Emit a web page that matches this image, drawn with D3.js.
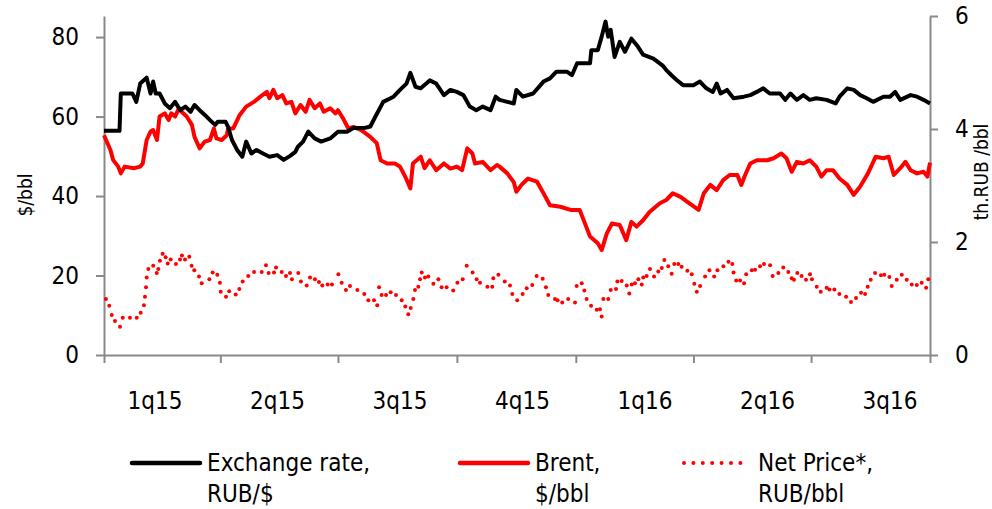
<!DOCTYPE html>
<html>
<head>
<meta charset="utf-8">
<script src="https://cdn.jsdelivr.net/npm/d3@7"></script>
<style>
  body { margin: 0; background: #fff; }
  text { font-family: "DejaVu Sans Condensed", "DejaVu Sans", sans-serif; fill: #000; }
</style>
</head>
<body>
<script>
// Data: [days since 1 Jan 2015, value]
var quarterLabels = ["1q15", "2q15", "3q15", "4q15", "1q16", "2q16", "3q16"];
var leftTicks = [0, 20, 40, 60, 80];
var rightTicks = [0, 2, 4, 6];

// Exchange rate, RUB/$ (left axis)
var exchangeRate = [[0,56.4],[12,56.4],[13,65.8],[22,65.8],[25,63.7],[28,68.3],[33,69.8],[36,65.8],[38,68.8],[40,65.8],[43,65.8],[47,63.3],[51,62.1],[55,63.7],[59,61.6],[63,62.5],[67,61.2],[70,62.9],[74,61.6],[78,60.4],[82,59.1],[86,57.9],[88,58.7],[94,58.7],[96,57.4],[99,54.1],[103,51.6],[107,49.9],[110,53.7],[114,50.7],[118,51.6],[123,50.7],[128,49.9],[134,50.3],[139,49.1],[144,50.1],[148,51.1],[150,52.4],[154,53.7],[158,56.2],[163,54.5],[168,53.7],[175,54.5],[181,56.2],[188,56.2],[193,57.1],[201,57.1],[206,57.5],[210,60],[216,63.7],[224,65],[229,66.7],[234,68.3],[237,71],[241,67.5],[245,67.1],[252,69.1],[257,68.3],[263,65.4],[268,66.7],[273,66.2],[278,65.4],[283,62.5],[288,61.6],[293,62.5],[299,61.6],[303,65],[306,64.2],[312,63.7],[317,63.3],[319,66.7],[324,65],[332,65.8],[340,68.8],[345,69.6],[350,71.3],[358,71.3],[362,70.4],[366,73.4],[376,73.4],[377,76.7],[382,76.7],[385,80.1],[388,83.9],[390,80.1],[392,81.8],[395,75],[399,78.8],[403,76.3],[408,79.6],[413,77.6],[417,75.6],[425,74.6],[432,72.9],[435,71.7],[439,70.4],[443,69.2],[448,67.9],[456,67.9],[461,68.8],[466,67.1],[471,66.2],[474,68.3],[477,65.8],[482,66.7],[487,64.6],[495,65],[500,65.4],[505,66.2],[510,67.1],[515,65.8],[523,65.8],[527,64.2],[531,65.8],[536,64.2],[541,65.4],[546,64.2],[551,64.6],[559,64.2],[566,63.3],[569,65],[575,67.1],[580,66.7],[585,65.4],[590,64.6],[595,63.7],[603,65],[608,65],[612,66.2],[616,64.2],[624,65.4],[629,65],[634,64.2],[639,63.3]];

// Brent, $/bbl (left axis)
var brent = [[0,55.3],[5,51.6],[7,49.1],[11,47.4],[13,45.7],[16,47.4],[23,47],[28,47.4],[30,48.2],[33,54.1],[36,56.2],[38,56.6],[41,54.1],[43,60],[47,60.8],[50,59.1],[52,60.8],[55,60],[58,62.1],[60,61.2],[64,60],[68,57.9],[70,54.9],[74,52],[78,53.7],[82,54.1],[85,57],[87,54.5],[91,54.1],[95,55.3],[96,57],[100,57],[105,60.4],[110,62.5],[116,63.7],[121,65],[126,66.2],[128,64.6],[131,66.7],[134,64.6],[138,65.4],[141,63.3],[145,63.7],[148,60.8],[152,62.9],[156,61.2],[159,64.2],[163,62.1],[167,63.3],[170,61.2],[175,62.1],[179,60.8],[181,61.6],[185,59.5],[189,57],[193,57.4],[199,56.6],[206,54.9],[211,53.3],[214,49],[219,48.2],[225,48.2],[229,47.4],[233,44.9],[237,41.9],[239,48.2],[245,49.9],[248,47],[252,49],[257,46.5],[263,48.2],[268,46.9],[273,47.4],[277,46.5],[281,52],[285,50.7],[287,48.2],[293,48.6],[299,46.5],[304,47.8],[306,47.4],[312,45.7],[317,43.5],[319,41.1],[323,42.8],[328,44.4],[335,43.6],[340,40.7],[345,37.7],[353,37.3],[361,36.5],[368,36.5],[371,34],[376,29.8],[382,28.1],[385,26.4],[389,30.6],[393,33.1],[399,32.7],[404,28.9],[408,33.5],[412,32.3],[417,33.9],[422,36],[430,38.2],[435,39],[440,40.7],[446,39.8],[451,38.6],[460,36.5],[464,40.7],[469,42.8],[474,41.5],[479,44],[484,45.3],[490,45.3],[493,42.8],[496,45.3],[500,48.2],[505,49],[513,49],[518,49.5],[524,50.7],[528,49.5],[532,46.1],[536,48.6],[541,48.2],[546,49],[551,47.4],[555,44.9],[559,46.5],[564,46.5],[569,44.4],[575,42.8],[580,40.3],[585,42.4],[591,45.7],[597,49.9],[603,49.5],[607,49.9],[611,45.3],[616,47],[620,48.6],[624,46.5],[629,45.7],[634,46.1],[637,44.9],[639,48.4]];

// Net Price*, th.RUB/bbl (right axis)
var netPrice = [[1.5,0.99],[4.1,0.87],[6,0.71],[8.5,0.6],[12.4,0.5],[14.5,0.66],[20.1,0.66],[25.3,0.66],[28.4,0.75],[30.9,0.88],[31.7,1.03],[32.5,1.2],[33,1.37],[34.3,1.52],[38.1,1.58],[40.8,1.45],[42,1.52],[43.3,1.67],[45.4,1.79],[47.7,1.73],[49.3,1.62],[51.6,1.69],[55.7,1.61],[58.8,1.69],[60.3,1.76],[62.7,1.69],[66,1.74],[67.8,1.58],[69.9,1.5],[73.5,1.39],[75.6,1.27],[81.5,1.34],[84.1,1.46],[87.7,1.42],[89.7,1.28],[90.3,1.12],[94.4,1.03],[96.9,1.13],[101.9,1.07],[104.7,1.17],[107.3,1.3],[111.6,1.4],[116.1,1.47],[122,1.47],[125.3,1.59],[127.4,1.45],[131.5,1.46],[133.1,1.55],[137.5,1.47],[140.8,1.4],[143.9,1.45],[145.4,1.34],[150.3,1.45],[152.4,1.3],[156.8,1.23],[159.4,1.37],[163.2,1.34],[166.3,1.29],[168.9,1.23],[173,1.25],[176.4,1.25],[181.3,1.43],[183.9,1.28],[187.2,1.15],[190.3,1.22],[196,1.15],[201.4,1.08],[204.5,0.97],[208.9,0.97],[211.4,0.88],[212.8,1.2],[214.8,1.06],[218.2,1.06],[221.8,1.11],[225.9,1.06],[230.3,0.97],[233.1,0.86],[235.4,0.72],[237.3,0.83],[239.3,0.99],[240.6,1.15],[243.2,1.21],[244.5,1.34],[245.8,1.46],[248.3,1.37],[250.9,1.39],[254.8,1.26],[258.7,1.34],[261.2,1.2],[265.1,1.2],[270.2,1.14],[273.4,1.28],[277.5,1.34],[280.6,1.58],[285.2,1.46],[288.3,1.34],[290.9,1.28],[296.6,1.21],[300.4,1.21],[301.2,1.36],[305.1,1.42],[310,1.3],[314.1,1.23],[315.9,1.08],[319.7,0.97],[323.9,1.08],[327,1.18],[331.3,1.24],[334.7,1.4],[339.4,1.35],[341.9,1.2],[343.7,1.06],[348.9,0.99],[350.9,0.97],[354.5,0.93],[359.1,0.99],[364.4,0.93],[365.7,1.22],[369.6,1.27],[371.6,1.14],[373.4,0.99],[376.8,0.87],[381.2,0.8],[383.7,0.81],[385,0.68],[386.3,0.99],[390.1,0.99],[392,1.15],[396.1,1.17],[397.2,1.3],[400.5,1.31],[404.4,1.23],[406.4,1.09],[408.3,1.25],[410.8,1.27],[413.4,1.34],[416,1.25],[417.2,1.37],[419.8,1.4],[422.4,1.52],[425.5,1.39],[428.8,1.48],[431.5,1.54],[433.5,1.68],[436.5,1.57],[439.2,1.44],[441.2,1.61],[444.3,1.61],[446.9,1.56],[451.3,1.49],[454.7,1.43],[456.7,1.26],[458.6,1.12],[461.2,1.22],[465,1.39],[468.4,1.5],[472,1.39],[474.6,1.5],[479.2,1.57],[483.1,1.65],[486.1,1.61],[487,1.46],[489.1,1.32],[492.1,1.32],[495.2,1.27],[496.8,1.43],[501.2,1.5],[503.7,1.51],[507.5,1.57],[510.6,1.61],[515.3,1.59],[517.3,1.4],[521.7,1.45],[525.5,1.55],[529.4,1.47],[532,1.36],[533.8,1.33],[536.4,1.45],[539.7,1.4],[543.1,1.33],[546.2,1.43],[547.7,1.34],[551.4,1.21],[554.5,1.12],[559.1,1.19],[561.2,1.16],[565,1.16],[568.9,1.08],[574.1,1.03],[577.9,0.94],[581.8,1.01],[585.7,1.1],[588.8,1.08],[590.8,1.21],[593.2,1.33],[596.5,1.45],[601.1,1.41],[603.7,1.42],[607.6,1.38],[609.4,1.22],[613.3,1.33],[617.2,1.42],[621,1.33],[624.9,1.25],[628.8,1.24],[632.6,1.28],[636,1.19],[637.7,1.34]];

// Set up size
var width = 992;
var height = 509;
var plot = {left: 104, right: 930, top: 16, bottom: 355};
var axisColor = "#898989";
var start = new Date(2015, 0, 1);

function toDate(d) { return d3.timeHour.offset(start, d[0] * 24); }

var svg = d3.select("body").append("svg")
  .attr("width", width)
  .attr("height", height);

// Scales
var x = d3.scaleTime()
  .domain([start, new Date(2016, 9, 1)])
  .range([plot.left, plot.right]);
var yLeft = d3.scaleLinear().domain([0, 85.3]).range([plot.bottom, plot.top]);
var yRight = d3.scaleLinear().domain([0, 6]).range([plot.bottom, plot.top]);

// Left axis
var leftAxis = svg.append("g")
  .attr("transform", "translate(" + plot.left + ",0)")
  .call(d3.axisLeft(yLeft).tickValues(leftTicks).tickSize(8).tickPadding(17).tickSizeOuter(0).tickFormat(d3.format("d")));

// Right axis
var rightAxis = svg.append("g")
  .attr("transform", "translate(" + plot.right + ",0)")
  .call(d3.axisRight(yRight).tickValues(rightTicks).tickSize(8).tickPadding(17).tickSizeOuter(0).tickFormat(d3.format("d")));

// Bottom axis: quarter boundaries as ticks, labels set separately
var bottomAxis = svg.append("g")
  .attr("transform", "translate(0," + plot.bottom + ")")
  .call(d3.axisBottom(x).ticks(d3.timeMonth.every(3)).tickSize(8).tickSizeOuter(0).tickFormat(""));

[leftAxis, rightAxis, bottomAxis].forEach(function(g) {
  g.select(".domain").attr("stroke", axisColor).attr("stroke-width", 2);
  g.selectAll(".tick line").attr("stroke", axisColor).attr("stroke-width", 2);
  g.selectAll(".tick text").style("font-size", "24px").attr("fill", "#000");
});

// Quarter labels
var labelScale = d3.scalePoint().domain(quarterLabels).range([155, 890]);
svg.append("g").selectAll("text")
  .data(quarterLabels)
  .enter().append("text")
  .attr("x", function(d) { return labelScale(d); })
  .attr("y", 401)
  .attr("dy", "0.35em")
  .attr("text-anchor", "middle")
  .style("font-size", "24px")
  .text(function(d) { return d; });

// Axis titles
svg.append("text")
  .attr("transform", "translate(25,195) rotate(-90)")
  .attr("text-anchor", "middle")
  .attr("dy", "0.35em")
  .style("font-size", "19px")
  .text("$/bbl");
svg.append("text")
  .attr("transform", "translate(981,172) rotate(-90)")
  .attr("text-anchor", "middle")
  .attr("dy", "0.35em")
  .style("font-size", "19px")
  .text("th.RUB /bbl");

// Lines
var lineLeft = d3.line()
  .x(function(d) { return x(toDate(d)); })
  .y(function(d) { return yLeft(d[1]); });

svg.append("path")
  .datum(brent)
  .attr("fill", "none")
  .attr("stroke", "#ff0000")
  .attr("stroke-width", 4)
  .attr("stroke-linejoin", "round")
  .attr("d", lineLeft);

svg.append("path")
  .datum(exchangeRate)
  .attr("fill", "none")
  .attr("stroke", "#000")
  .attr("stroke-width", 4)
  .attr("stroke-linejoin", "round")
  .attr("d", lineLeft);

// Net price dots
svg.append("g").selectAll("circle")
  .data(netPrice)
  .enter().append("circle")
  .attr("cx", function(d) { return x(toDate(d)); })
  .attr("cy", function(d) { return yRight(d[1]); })
  .attr("r", 2)
  .attr("fill", "#ff0000");

// Legend
var legendItems = [
  {lines: ["Exchange rate,", "RUB/$"], color: "#000", dash: null, x: 130},
  {lines: ["Brent,", "$/bbl"], color: "#ff0000", dash: null, x: 458},
  {lines: ["Net Price*,", "RUB/bbl"], color: "#ff0000", dash: "0,9.4", x: 682}
];
var legend = svg.append("g").selectAll("g")
  .data(legendItems)
  .enter().append("g")
  .attr("transform", function(d) { return "translate(" + d.x + ",463)"; });
legend.append("line")
  .attr("x1", 2).attr("x2", function(d) { return d.dash ? 66 : 70; })
  .attr("stroke", function(d) { return d.color; })
  .attr("stroke-width", function(d) { return d.dash ? 4 : 4.5; })
  .attr("stroke-linecap", "round")
  .attr("stroke-dasharray", function(d) { return d.dash; });
legend.append("text")
  .attr("x", function(d) { return d.dash ? 76 : 77; })
  .style("font-size", "24px")
  .selectAll("tspan")
  .data(function(d) { return d.lines; })
  .enter().append("tspan")
  .attr("x", function() { return d3.select(this.parentNode).attr("x"); })
  .attr("y", function(d, i) { return i * 31; })
  .attr("dy", "0.35em")
  .text(function(d) { return d; });
</script>
</body>
</html>
